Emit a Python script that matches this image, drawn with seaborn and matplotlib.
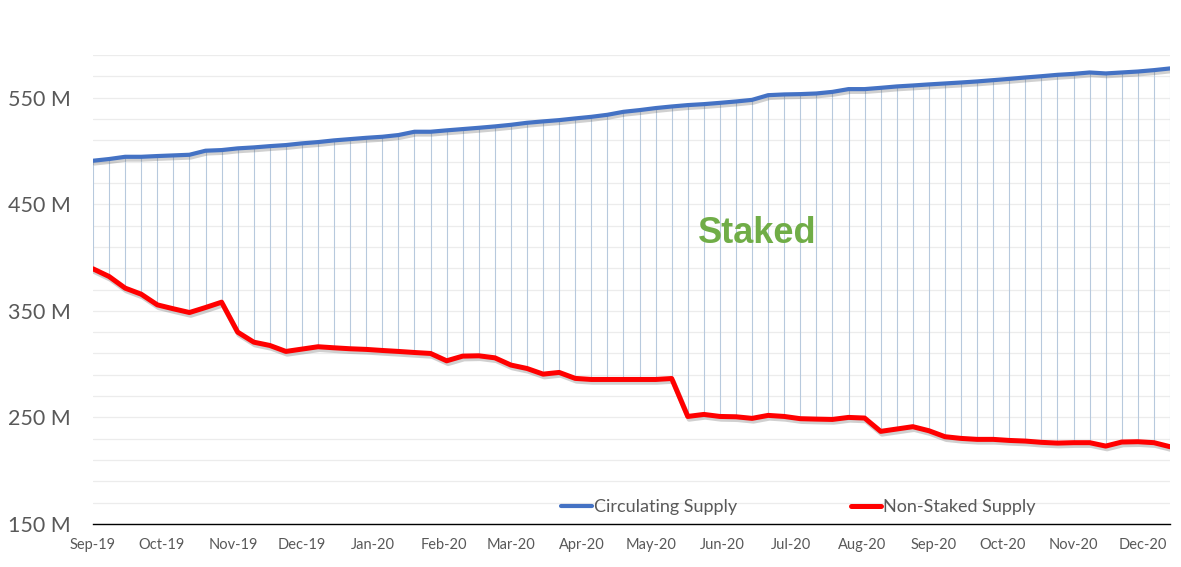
import numpy as np
import pandas as pd
import matplotlib
matplotlib.use("Agg")
import matplotlib.pyplot as plt
import matplotlib.dates as mdates
import matplotlib.patheffects as pe
from matplotlib.lines import Line2D
from matplotlib.ticker import FuncFormatter
import seaborn as sns

# weekly snapshots, Sep-2019 .. Dec-2020 (millions)
dates = pd.date_range("2019-09-01", periods=68, freq="7D")

circulating = [
    490.8, 492.4, 494.5, 494.5, 495.2, 495.8, 496.4, 500.2, 500.8, 502.4,
    503.3, 504.5, 505.5, 507.1, 508.3, 509.9, 511.1, 512.3, 513.3, 514.9,
    518.0, 518.0, 519.3, 520.5, 521.7, 523.0, 524.5, 526.4, 527.7, 528.9,
    530.5, 532.0, 533.9, 536.7, 538.3, 540.2, 541.7, 543.0, 543.9, 545.1,
    546.4, 547.9, 552.3, 553.0, 553.3, 553.9, 555.4, 558.0, 558.0, 559.2,
    560.5, 561.4, 562.4, 563.3, 564.2, 565.2, 566.4, 567.6, 568.9, 570.1,
    571.4, 572.3, 573.6, 572.7, 573.6, 574.5, 575.8, 577.4,
]

non_staked = [
    389.4, 382.2, 371.3, 365.6, 355.6, 351.9, 348.4, 353.1, 358.1, 330.0,
    320.6, 317.5, 311.9, 314.1, 316.3, 315.3, 314.4, 313.8, 312.8, 311.9,
    310.9, 310.0, 303.1, 307.5, 307.8, 305.9, 299.1, 295.9, 290.6, 292.2,
    286.6, 285.6, 285.6, 285.6, 285.6, 285.6, 286.5, 250.9, 252.8, 250.9,
    250.6, 249.1, 251.9, 250.9, 248.8, 248.4, 248.1, 250.0, 249.4, 236.9,
    239.1, 241.3, 237.5, 231.9, 230.3, 229.4, 229.4, 228.4, 227.8, 226.6,
    225.9, 226.3, 226.3, 223.1, 226.9, 227.2, 226.3, 222.5,
]

series_names = ["Circulating Supply", "Non-Staked Supply"]

df = pd.DataFrame({
    "date": dates,
    "circulating": circulating,
    "non_staked": non_staked,
})

BLUE = "#4472C4"
RED = "#FF0000"
GREEN = "#70AD47"
GREY_TXT = "#595959"

sns.set_style("white")
plt.rcParams["font.family"] = ["Lato", "DejaVu Sans"]

fig = plt.figure(figsize=(11.81, 5.67), dpi=100)
ax = fig.add_axes([93 / 1181, 1 - 524 / 567, 1077 / 1181, 469 / 567])

# high-low lines between the two series
ax.vlines(df["date"], df["non_staked"], df["circulating"],
          colors="#b7c9dd", linewidth=0.8, zorder=1)

shadow = [pe.SimpleLineShadow(offset=(1.0, -2.0), shadow_color="#666666", alpha=0.3),
          pe.Normal()]

sns.lineplot(data=df, x="date", y="circulating", ax=ax, color=BLUE,
             linewidth=3.0, legend=False, zorder=3, path_effects=shadow)
sns.lineplot(data=df, x="date", y="non_staked", ax=ax, color=RED,
             linewidth=3.6, legend=False, zorder=3, path_effects=shadow)

ax.set_xlim(dates[0], dates[-1])
ax.set_ylim(150, 590)

ax.set_yticks(np.arange(150, 551, 100))
ax.set_yticks(np.arange(170, 591, 20), minor=True)
ax.yaxis.set_major_formatter(FuncFormatter(lambda v, p: f"{v:.0f} M"))
ax.grid(axis="y", which="both", color="#ececec", linewidth=0.9, zorder=0)
ax.set_axisbelow(True)

ax.xaxis.set_major_locator(mdates.MonthLocator())
ax.xaxis.set_major_formatter(mdates.DateFormatter("%b-%y"))

ax.tick_params(axis="y", which="both", length=0, labelsize=15.5,
               labelcolor=GREY_TXT, pad=16)
ax.tick_params(axis="x", length=0, labelsize=10.5, labelcolor=GREY_TXT, pad=10)

for side in ["top", "right", "left"]:
    ax.spines[side].set_visible(False)
ax.spines["bottom"].set_color("black")
ax.spines["bottom"].set_linewidth(1.0)

ax.set_xlabel("")
ax.set_ylabel("")

ax.text(0.617, 0.62, "Staked", transform=ax.transAxes, color=GREEN,
        fontsize=26, fontweight="bold", family=["Liberation Sans", "DejaVu Sans"],
        ha="center", va="center")

handles = [Line2D([], [], color=BLUE, linewidth=3.0),
           Line2D([], [], color=RED, linewidth=3.6)]
ax.legend(handles, series_names, loc="center", bbox_to_anchor=(0.655, 0.036),
          ncol=2, frameon=False, fontsize=13, labelcolor=GREY_TXT,
          handlelength=1.7, handletextpad=0.1, columnspacing=6.3)

fig.savefig("out.png", dpi=100)
